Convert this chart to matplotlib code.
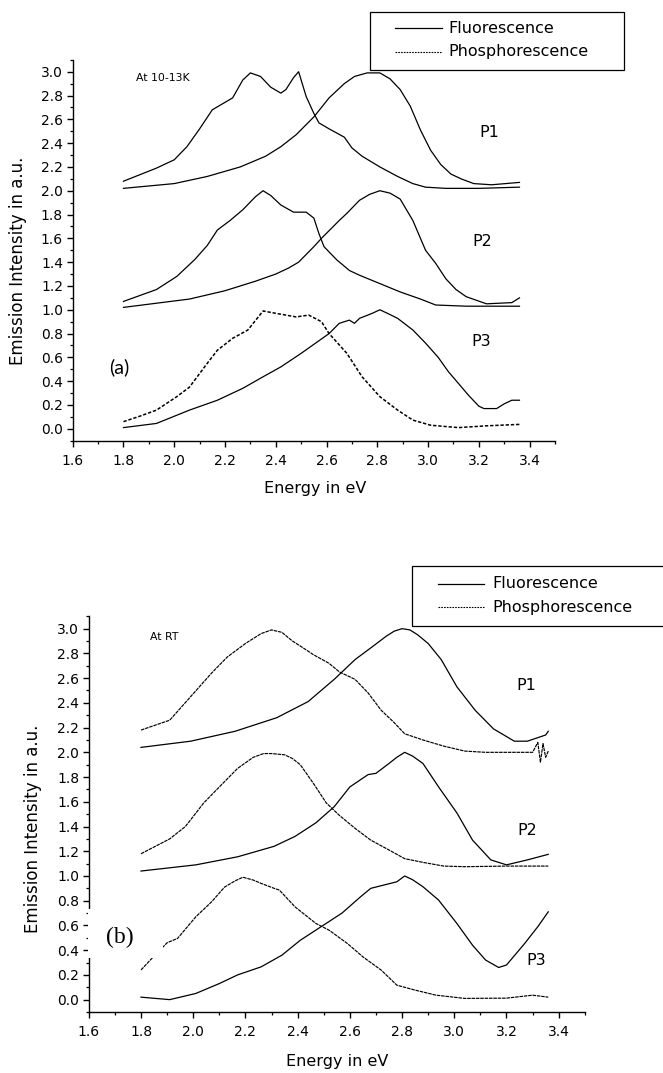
import matplotlib
matplotlib.use("Agg")
import matplotlib.pyplot as plt
from matplotlib.lines import Line2D
from matplotlib.patches import Rectangle
from matplotlib.ticker import MultipleLocator

plt.rcParams["font.family"] = ["DejaVu Sans"]

W, H = 663, 1073  # output size in px (dpi 100)

# ---------------- data: panel (a), 10-13 K ----------------
a_p1_fl_x = [1.80, 2.00, 2.13, 2.26, 2.36, 2.42, 2.48, 2.55, 2.61, 2.67, 2.71, 2.76, 2.81,
             2.85, 2.89, 2.93, 2.97, 3.01, 3.05, 3.09, 3.13, 3.18, 3.25, 3.36]
a_p1_fl_y = [2.02, 2.06, 2.12, 2.20, 2.29, 2.37, 2.47, 2.62, 2.78, 2.90, 2.96, 2.99, 2.99,
             2.94, 2.85, 2.71, 2.51, 2.34, 2.22, 2.14, 2.10, 2.06, 2.05, 2.07]
a_p1_ph_x = [1.80, 1.93, 2.00, 2.05, 2.10, 2.15, 2.19, 2.23, 2.27, 2.30, 2.34, 2.38, 2.42,
             2.44, 2.47, 2.49, 2.52, 2.55, 2.57, 2.61, 2.67, 2.70, 2.74, 2.81, 2.88, 2.94,
             2.99, 3.07, 3.20, 3.36]
a_p1_ph_y = [2.08, 2.19, 2.26, 2.37, 2.52, 2.68, 2.73, 2.78, 2.93, 2.99, 2.96, 2.87, 2.82,
             2.85, 2.95, 3.00, 2.79, 2.65, 2.57, 2.52, 2.45, 2.36, 2.29, 2.20, 2.12, 2.06,
             2.03, 2.02, 2.02, 2.03]
a_p2_fl_x = [1.80, 2.06, 2.20, 2.32, 2.40, 2.45, 2.49, 2.55, 2.58, 2.65, 2.68, 2.73, 2.77,
             2.81, 2.85, 2.89, 2.94, 2.99, 3.03, 3.07, 3.11, 3.15, 3.23, 3.33, 3.36]
a_p2_fl_y = [1.02, 1.09, 1.16, 1.24, 1.30, 1.35, 1.40, 1.53, 1.60, 1.75, 1.81, 1.92, 1.97,
             2.00, 1.98, 1.93, 1.75, 1.50, 1.39, 1.26, 1.17, 1.11, 1.05, 1.06, 1.10]
a_p2_ph_x = [1.80, 1.93, 2.01, 2.08, 2.13, 2.17, 2.22, 2.27, 2.32, 2.35, 2.38, 2.42, 2.47,
             2.52, 2.55, 2.57, 2.59, 2.64, 2.69, 2.73, 2.81, 2.89, 2.97, 3.03, 3.15, 3.36]
a_p2_ph_y = [1.07, 1.17, 1.28, 1.42, 1.54, 1.67, 1.75, 1.84, 1.95, 2.00, 1.96, 1.88, 1.82,
             1.82, 1.77, 1.64, 1.53, 1.42, 1.33, 1.29, 1.22, 1.15, 1.09, 1.04, 1.03, 1.03]
a_p3_fl_x = [1.80, 1.93, 2.06, 2.17, 2.27, 2.35, 2.42, 2.50, 2.61, 2.65, 2.69, 2.71, 2.73,
             2.78, 2.81, 2.84, 2.88, 2.94, 2.99, 3.04, 3.08, 3.12, 3.16, 3.20, 3.22, 3.27,
             3.30, 3.33, 3.36]
a_p3_fl_y = [0.01, 0.045, 0.157, 0.24, 0.34, 0.437, 0.52, 0.634, 0.80, 0.886, 0.913, 0.886,
             0.928, 0.97, 1.00, 0.97, 0.928, 0.83, 0.72, 0.60, 0.48, 0.38, 0.28, 0.19, 0.17,
             0.17, 0.21, 0.24, 0.24]
a_p3_ph_x = [1.80, 1.87, 1.93, 2.01, 2.06, 2.13, 2.17, 2.23, 2.29, 2.35, 2.40, 2.48, 2.53,
             2.58, 2.61, 2.68, 2.74, 2.81, 2.88, 2.94, 3.01, 3.12, 3.23, 3.36]
a_p3_ph_y = [0.06, 0.11, 0.157, 0.27, 0.35, 0.55, 0.66, 0.76, 0.83, 0.99, 0.97, 0.94, 0.955,
             0.90, 0.80, 0.634, 0.437, 0.27, 0.157, 0.073, 0.03, 0.01, 0.025, 0.037]

# ---------------- data: panel (b), room temperature ----------------
b_p1_fl_x = [1.80, 1.99, 2.16, 2.32, 2.44, 2.54, 2.62, 2.69, 2.74, 2.77, 2.80, 2.83, 2.86,
             2.90, 2.95, 3.01, 3.08, 3.15, 3.23, 3.28, 3.35, 3.36]
b_p1_fl_y = [2.04, 2.09, 2.17, 2.28, 2.41, 2.59, 2.75, 2.86, 2.94, 2.98, 3.00, 2.99, 2.95,
             2.88, 2.75, 2.53, 2.34, 2.19, 2.09, 2.09, 2.14, 2.17]
b_p1_ph_x = [1.80, 1.91, 1.99, 2.07, 2.13, 2.20, 2.26, 2.30, 2.34, 2.38, 2.41, 2.46, 2.52,
             2.56, 2.62, 2.67, 2.72, 2.77, 2.81, 2.88, 2.96, 3.04, 3.12, 3.30, 3.32, 3.33,
             3.34, 3.35, 3.36]
b_p1_ph_y = [2.18, 2.26, 2.45, 2.64, 2.77, 2.88, 2.96, 2.99, 2.97, 2.90, 2.86, 2.79, 2.72,
             2.65, 2.59, 2.48, 2.34, 2.24, 2.15, 2.10, 2.05, 2.01, 2.00, 2.00, 2.08, 1.92,
             2.07, 1.96, 2.01]
b_p2_fl_x = [1.80, 2.01, 2.17, 2.31, 2.39, 2.47, 2.54, 2.60, 2.67, 2.70, 2.75, 2.78, 2.81,
             2.84, 2.88, 2.94, 3.01, 3.07, 3.14, 3.20, 3.28, 3.36]
b_p2_fl_y = [1.04, 1.09, 1.155, 1.24, 1.32, 1.43, 1.56, 1.72, 1.82, 1.83, 1.91, 1.96, 2.00,
             1.97, 1.91, 1.72, 1.51, 1.29, 1.13, 1.09, 1.13, 1.175]
b_p2_ph_x = [1.80, 1.91, 1.97, 2.04, 2.10, 2.17, 2.23, 2.27, 2.30, 2.35, 2.38, 2.41, 2.46,
             2.51, 2.56, 2.62, 2.68, 2.75, 2.81, 2.88, 2.96, 3.04, 3.20, 3.36]
b_p2_ph_y = [1.18, 1.30, 1.40, 1.59, 1.72, 1.87, 1.96, 1.99, 1.99, 1.98, 1.95, 1.90, 1.75,
             1.59, 1.49, 1.385, 1.29, 1.21, 1.14, 1.11, 1.08, 1.075, 1.08, 1.08]
b_p3_fl_x = [1.80, 1.91, 2.01, 2.10, 2.17, 2.26, 2.34, 2.41, 2.49, 2.57, 2.64, 2.68, 2.78,
             2.81, 2.84, 2.88, 2.94, 3.01, 3.07, 3.12, 3.17, 3.20, 3.27, 3.32, 3.36]
b_p3_fl_y = [0.02, 0.00, 0.05, 0.13, 0.20, 0.265, 0.36, 0.48, 0.59, 0.70, 0.83, 0.90, 0.953,
             1.00, 0.97, 0.913, 0.805, 0.616, 0.44, 0.32, 0.26, 0.28, 0.455, 0.59, 0.71]
b_p3_ph_x = [1.80, 1.84, 1.90, 1.94, 2.01, 2.07, 2.12, 2.16, 2.19, 2.23, 2.26, 2.31, 2.33,
             2.39, 2.47, 2.52, 2.59, 2.65, 2.72, 2.78, 2.85, 2.93, 3.04, 3.20, 3.30, 3.36]
b_p3_ph_y = [0.24, 0.33, 0.46, 0.495, 0.67, 0.79, 0.91, 0.96, 0.99, 0.967, 0.94, 0.90, 0.886,
             0.75, 0.616, 0.562, 0.455, 0.346, 0.239, 0.117, 0.077, 0.036, 0.01, 0.012,
             0.036, 0.02]

XLIM = (1.6, 3.5)
YLIM = (-0.1, 3.1)
XTICKS = [1.6, 1.8, 2.0, 2.2, 2.4, 2.6, 2.8, 3.0, 3.2, 3.4]
YTICKS = [0.0, 0.2, 0.4, 0.6, 0.8, 1.0, 1.2, 1.4, 1.6, 1.8, 2.0, 2.2, 2.4, 2.6, 2.8, 3.0]


def px_rect(l, t, r, b):
    return [l / W, 1 - b / H, (r - l) / W, (b - t) / H]


def style_axes(ax, xlab_xy, ylab_xy):
    ax.set_xlim(*XLIM)
    ax.set_ylim(*YLIM)
    ax.set_xticks(XTICKS)
    ax.set_yticks(YTICKS)
    ax.set_xticklabels([f"{v:.1f}" for v in XTICKS])
    ax.set_yticklabels([f"{v:.1f}" for v in YTICKS])
    ax.xaxis.set_minor_locator(MultipleLocator(0.1))
    ax.yaxis.set_minor_locator(MultipleLocator(0.1))
    for side in ("top", "right"):
        ax.spines[side].set_visible(False)
    for side in ("left", "bottom"):
        ax.spines[side].set_linewidth(1.0)
    ax.tick_params(which="major", direction="out", length=4.5, width=1.0, labelsize=10)
    ax.tick_params(which="minor", direction="out", length=2.5, width=0.9)
    ax.tick_params(axis="x", which="major", pad=5)
    ax.tick_params(axis="y", which="major", pad=2.5)
    ax.set_xlabel("Energy in eV", fontsize=11.5, va="center")
    ax.set_ylabel("Emission Intensity in a.u.", fontsize=12, va="center")
    ax.xaxis.set_label_coords(*xlab_xy)
    ax.yaxis.set_label_coords(*ylab_xy)


def legend_box(l, t, r, b, row1, row2, lx0, lx1, tx):
    fig.add_artist(Rectangle((l / W, 1 - b / H), (r - l) / W, (b - t) / H,
                             transform=fig.transFigure, fill=False,
                             edgecolor="black", linewidth=0.9))
    fig.add_artist(Line2D([lx0 / W, lx1 / W], [1 - row1 / H] * 2,
                          transform=fig.transFigure, color="black", linewidth=0.9))
    fig.add_artist(Line2D([lx0 / W, lx1 / W], [1 - row2 / H] * 2,
                          transform=fig.transFigure, color="black", linewidth=0.8,
                          linestyle=(0, (1.5, 1.0))))
    fig.text(tx / W, 1 - row1 / H, "Fluorescence", fontsize=11.5, va="center")
    fig.text(tx / W, 1 - row2 / H, "Phosphorescence", fontsize=11.5, va="center")


fig = plt.figure(figsize=(W / 100, H / 100), dpi=100)

# ---------------- panel (a) ----------------
ax1 = fig.add_axes(px_rect(72.7, 59.8, 555, 440.7))
for x, y in ((a_p1_fl_x, a_p1_fl_y), (a_p2_fl_x, a_p2_fl_y), (a_p3_fl_x, a_p3_fl_y),
             (a_p1_ph_x, a_p1_ph_y), (a_p2_ph_x, a_p2_ph_y)):
    ax1.plot(x, y, color="black", linewidth=0.9)
ax1.plot(a_p3_ph_x, a_p3_ph_y, color="black", linewidth=1.1, linestyle=(0, (2.2, 1.2)))
style_axes(ax1, (0.502, -0.125), (-0.1126, 0.472))
ax1.text(1.849, 2.95, "At 10-13K", fontsize=7.8, va="center", ha="left")
ax1.text(3.24, 2.49, "P1", fontsize=11.5, ha="center", va="center")
ax1.text(3.213, 1.57, "P2", fontsize=11.5, ha="center", va="center")
ax1.text(3.21, 0.73, "P3", fontsize=11.5, ha="center", va="center")
ax1.text(1.783, 0.52, "(a)", fontsize=14, ha="center", va="center",
         family=["Lato", "DejaVu Sans"])
legend_box(370.4, 11.7, 623.7, 70.3, 28.3, 51.7, 395, 442, 448)

# ---------------- panel (b) ----------------
ax2 = fig.add_axes(px_rect(88.8, 616.3, 584.8, 1012))
for x, y in ((b_p1_fl_x, b_p1_fl_y), (b_p2_fl_x, b_p2_fl_y), (b_p3_fl_x, b_p3_fl_y)):
    ax2.plot(x, y, color="black", linewidth=0.9)
for x, y in ((b_p1_ph_x, b_p1_ph_y), (b_p2_ph_x, b_p2_ph_y), (b_p3_ph_x, b_p3_ph_y)):
    ax2.plot(x, y, color="black", linewidth=0.85, linestyle=(0, (3, 0.7)))
style_axes(ax2, (0.4998, -0.126), (-0.1125, 0.462))
ax2.text(1.834, 2.93, "At RT", fontsize=7.8, va="center", ha="left")
ax2.text(3.275, 2.54, "P1", fontsize=11.5, ha="center", va="center")
ax2.text(3.28, 1.37, "P2", fontsize=11.5, ha="center", va="center")
ax2.text(3.314, 0.314, "P3", fontsize=11.5, ha="center", va="center")
# white label box of "(b)" that hides part of the spine and the P3 curve
ax2.add_patch(Rectangle((1.596, 0.336), 0.288, 0.396, facecolor="white",
                        edgecolor="none", zorder=4, clip_on=False))
ax2.text(1.719, 0.503, "(b)", fontsize=17, ha="center", va="center", zorder=5,
         family=["Liberation Serif", "DejaVu Serif"])
legend_box(412.3, 565.7, 700, 626, 584, 607.4, 437.6, 484, 492.6)

fig.savefig("out.png", dpi=100, facecolor="white")
